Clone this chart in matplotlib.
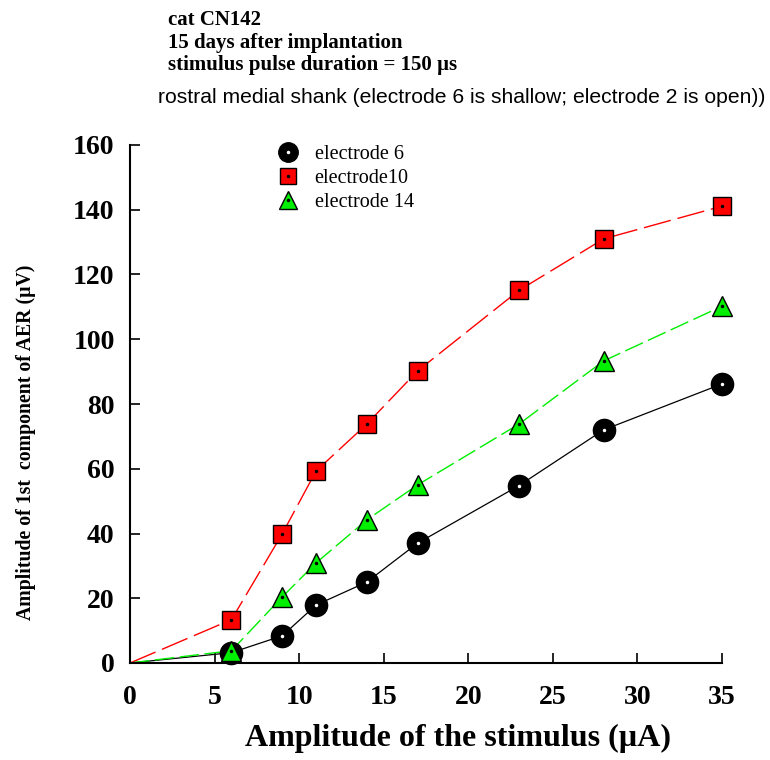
import matplotlib
matplotlib.use("Agg")
from matplotlib import pyplot as plt
from matplotlib.lines import Line2D

plt.rcParams['font.family'] = ['Liberation Serif', 'DejaVu Serif']
plt.rcParams['lines.scale_dashes'] = False

# stimulus amplitude (uA)
amp = [0, 6, 9, 11, 14, 17, 23, 28, 35]
# AER amplitude (uV)
e6 = [0, 3.2, 8.4, 17.9, 25, 37, 54.8, 72, 86.2]
e10 = [0, 13.4, 39.9, 59.3, 73.8, 90.2, 115.1, 131, 141.1]
e14 = [0, 3.8, 20.4, 30.9, 44.2, 55, 73.8, 93.3, 110.2]

xticks = [0, 5, 10, 15, 20, 25, 30, 35]
yticks = [0, 20, 40, 60, 80, 100, 120, 140, 160]

fig = plt.figure(figsize=(7.7, 7.6), dpi=100)
ax = fig.add_axes([130/770, 1-663/760, 592/770, 518/760])

# lines (start at origin, markers only on measured points)
ax.plot(amp, e6, color='black', lw=0.9, zorder=2)
ax.plot(amp, e10, color='red', lw=1.0, dashes=(20, 5), zorder=2)
ax.plot(amp, e14, color='#00ee00', lw=1.0, dashes=(14, 4), zorder=2)

# markers
ax.plot(amp[1:], e6[1:], 'o', ms=16, mfc='black', mec='black', clip_on=False, zorder=3)
ax.plot(amp[1:], e6[1:], '.', ms=3, color='white', clip_on=False, zorder=4)
ax.plot(amp[1:], e10[1:], 's', ms=13.5, mfc='red', mec='black', mew=1.0, clip_on=False, zorder=3)
ax.plot(amp[1:], e10[1:], '.', ms=3, color='black', clip_on=False, zorder=4)
ax.plot(amp[1:], e14[1:], '^', ms=15, mfc='#00ee00', mec='black', mew=1.0, clip_on=False, zorder=5)
ax.plot(amp[1:], e14[1:], '.', ms=3, color='black', clip_on=False, zorder=6)

ax.set_xlim(0, 35)
ax.set_ylim(0, 160)
ax.set_xticks(xticks)
ax.set_yticks(yticks)
for s in ['top', 'right']:
    ax.spines[s].set_visible(False)
for s in ['left', 'bottom']:
    ax.spines[s].set_linewidth(1.5)
ax.tick_params(direction='in', length=7, width=1.2, labelsize=20)
ax.tick_params(axis='x', pad=16)
ax.tick_params(axis='y', pad=11)
for lab in ax.get_xticklabels() + ax.get_yticklabels():
    lab.set_fontweight('bold')

ax.set_xlabel('Amplitude of the stimulus (µA)', fontsize=23, fontweight='bold')
ax.xaxis.set_label_coords((458-130)/592, -(724-663)/518)
ax.set_ylabel('Amplitude of 1st  component of AER (µV)', fontsize=14.2, fontweight='bold')
ax.yaxis.set_label_coords(-(130-36)/592, (663-442)/518)

# legend
h6 = (Line2D([], [], ls='none', marker='o', ms=14, mfc='black', mec='black'),
      Line2D([], [], ls='none', marker='.', ms=3, color='white'))
h10 = (Line2D([], [], ls='none', marker='s', ms=12, mfc='red', mec='black'),
       Line2D([], [], ls='none', marker='.', ms=3, color='black'))
h14 = (Line2D([], [], ls='none', marker='^', ms=13, mfc='#00ee00', mec='black'),
       Line2D([], [], ls='none', marker='.', ms=3, color='black'))
ax.legend([h6, h10, h14], ['electrode 6', 'electrode10', 'electrode 14'],
          loc='upper left', bbox_to_anchor=(0.21, 1.035), frameon=False,
          fontsize=14.5, handlelength=1.5, handletextpad=0.6, labelspacing=0.25)

# header text
fig.text(168/770, 1-25/760, 'cat CN142', fontsize=15, fontweight='bold', va='baseline')
fig.text(168/770, 1-48/760, '15 days after implantation', fontsize=15, fontweight='bold', va='baseline')
fig.text(168/770, 1-70/760, 'stimulus pulse duration = 150 µs', fontsize=15, fontweight='bold', va='baseline')
fig.text(158/770, 1-103/760, 'rostral medial shank (electrode 6 is shallow; electrode 2 is open))',
         fontsize=15.2, family=['Liberation Sans', 'DejaVu Sans'], va='baseline')

fig.savefig('out.png', dpi=100)
